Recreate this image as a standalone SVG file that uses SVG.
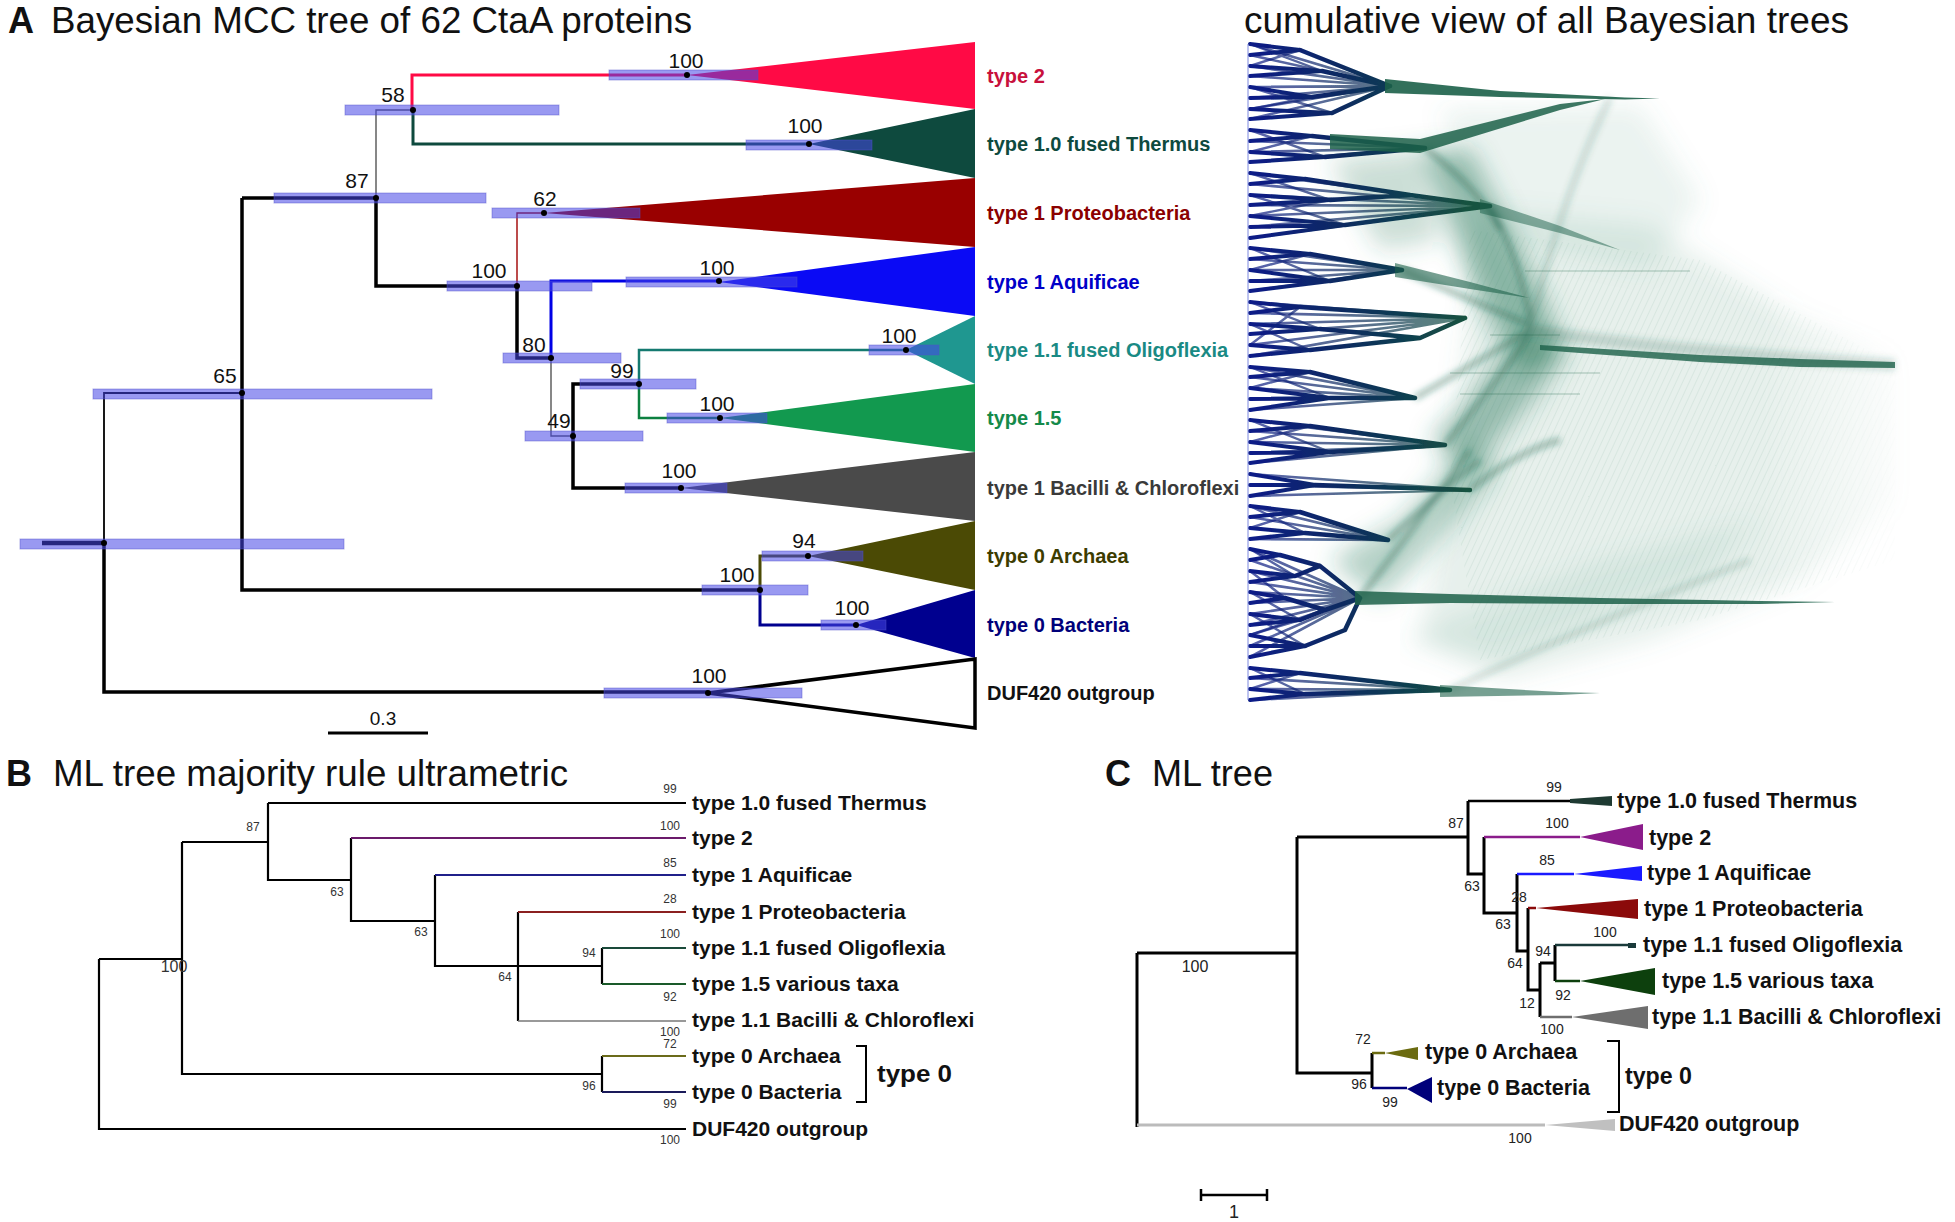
<svg xmlns="http://www.w3.org/2000/svg" width="1955" height="1222" viewBox="0 0 1955 1222">
<defs>
<style>
text{font-family:"Liberation Sans",Arial,sans-serif;fill:#111}
.ttl{font-size:36px}
.pl{font-size:36px;font-weight:bold}
.lbl{font-size:20px;font-weight:bold}
.num{font-size:21px;text-anchor:middle}
.bl{font-size:21px;font-weight:bold}
.cl{font-size:21.5px;font-weight:bold}
.bn{font-size:12px;fill:#333;text-anchor:middle}
.cn{font-size:14px;fill:#222;text-anchor:middle}
.bar{fill:#4646e6;fill-opacity:.55;stroke:#5050c8;stroke-opacity:.45;stroke-width:1}
.e{fill:none;stroke:#000;stroke-width:3.5}
.th{fill:none;stroke:#555;stroke-width:1.4}
.be{fill:none;stroke:#000;stroke-width:2.2}
.ce{fill:none;stroke:#000;stroke-width:3}
.fan{fill:none;stroke:url(#fan);stroke-linecap:round}
.br{fill:#1c6049}
</style>
<linearGradient id="fan" gradientUnits="userSpaceOnUse" x1="1250" y1="0" x2="1470" y2="0">
<stop offset="0" stop-color="#0a1c88"/><stop offset="0.4" stop-color="#0a2a62"/><stop offset="1" stop-color="#16533f"/>
</linearGradient>
<filter id="blur8" x="-20%" y="-20%" width="140%" height="140%"><feGaussianBlur stdDeviation="12"/></filter>
<filter id="blur3" x="-20%" y="-20%" width="140%" height="140%"><feGaussianBlur stdDeviation="3"/></filter>
<filter id="blur1" x="-5%" y="-5%" width="110%" height="110%"><feGaussianBlur stdDeviation="0.5"/></filter>
<pattern id="diag" width="6" height="6" patternUnits="userSpaceOnUse" patternTransform="rotate(25)"><line x1="0" y1="0" x2="0" y2="6" stroke="#2a7a5a" stroke-width="1" stroke-opacity="0.3"/></pattern>
<linearGradient id="fade" x1="0" y1="0" x2="1" y2="0"><stop offset="0" stop-color="#fff"/><stop offset="0.7" stop-color="#fff"/><stop offset="1" stop-color="#000"/></linearGradient>
<mask id="fadeMask" maskUnits="userSpaceOnUse" x="1400" y="100" width="520" height="620"><rect x="1400" y="100" width="520" height="620" fill="url(#fade)"/></mask>
</defs>
<rect width="1955" height="1222" fill="#fff"/>

<g id="titles">
<text class="pl" x="8" y="33">A</text>
<text class="ttl" x="51" y="33" textLength="641" lengthAdjust="spacingAndGlyphs">Bayesian MCC tree of 62 CtaA proteins</text>
<text class="ttl" x="1244" y="33" textLength="605" lengthAdjust="spacingAndGlyphs">cumulative  view of all Bayesian trees</text>
<text class="pl" x="6" y="786">B</text>
<text class="ttl" x="53" y="786" textLength="515" lengthAdjust="spacingAndGlyphs">ML tree majority rule ultrametric</text>
<text class="pl" x="1105" y="786">C</text>
<text class="ttl" x="1152" y="786" textLength="121" lengthAdjust="spacingAndGlyphs">ML tree</text>
</g>

<g id="panelA-clades">
<g id="a-type2"><polygon points="687,75 975,42 975,109" fill="#ff0a45"/><text class="lbl" x="987" y="83" style="fill:#c8103c">type 2</text></g>
<g id="a-thermus"><polygon points="809,144 975,109 975,178" fill="#0e4a3e"/><text class="lbl" x="987" y="151" style="fill:#0e4a3e">type 1.0 fused Thermus</text></g>
<g id="a-proteo"><polygon points="544,213 975,178 975,247" fill="#990000"/><text class="lbl" x="987" y="220" style="fill:#8b0000">type 1 Proteobacteria</text></g>
<g id="a-aquificae"><polygon points="719,282 975,247 975,316" fill="#0a0af5"/><text class="lbl" x="987" y="289" style="fill:#0000c8">type 1 Aquificae</text></g>
<g id="a-oligo"><polygon points="906,350 975,316 975,384" fill="#1f9790"/><text class="lbl" x="987" y="357" style="fill:#1a8a84">type 1.1 fused Oligoflexia</text></g>
<g id="a-t15"><polygon points="720,418 975,384 975,452" fill="#12994f"/><text class="lbl" x="987" y="425" style="fill:#148a4a">type 1.5</text></g>
<g id="a-bacilli"><polygon points="681,488 975,452 975,521" fill="#4a4a4a"/><text class="lbl" x="987" y="495" style="fill:#3a3a3a">type 1 Bacilli &amp; Chloroflexi</text></g>
<g id="a-archaea"><polygon points="808,556 975,521 975,590" fill="#4b4a05"/><text class="lbl" x="987" y="563" style="fill:#3c3c00">type 0 Archaea</text></g>
<g id="a-bacteria"><polygon points="856,625 975,590 975,658" fill="#00008f"/><text class="lbl" x="987" y="632" style="fill:#00007a">type 0 Bacteria</text></g>
<g id="a-duf"><polygon points="708,693 975,659 975,728" fill="#fff" stroke="#000" stroke-width="3.5"/><text class="lbl" x="987" y="700">DUF420 outgroup</text></g>
</g>

<g id="panelA-connectors">
<path d="M412,110 V75 H687" fill="none" stroke="#ff0a45" stroke-width="3"/>
<path d="M413,110 V144 H809" fill="none" stroke="#0e4a3e" stroke-width="3"/>
<path class="th" d="M376,198 V110 H413"/>
<path class="e" d="M242,198 H376 V286 H517 V358 H551"/>
<path d="M517,286 V213 H544" fill="none" stroke="#a00000" stroke-width="1.4"/>
<path d="M551,358 V281 H719" fill="none" stroke="#0000e6" stroke-width="3"/>
<path class="th" d="M551,358 V436 H573"/>
<path class="e" d="M639,384 H573 V488 H681"/>
<path d="M639,384 V350 H906" fill="none" stroke="#147a70" stroke-width="2.5"/>
<path d="M639,384 V418 H720" fill="none" stroke="#0c8040" stroke-width="2.5"/>
<path class="e" d="M242,198 V590 H760"/>
<path d="M760,590 V556 H808" fill="none" stroke="#4b4a05" stroke-width="3"/>
<path d="M760,590 V625 H856" fill="none" stroke="#00008f" stroke-width="3"/>
<path d="M242,393 H104 V543" fill="none" stroke="#000" stroke-width="1.8"/>
<path class="e" d="M104,543 V692 H708"/>
<path d="M42,543 H104" fill="none" stroke="#000" stroke-width="4.5"/>
</g>

<g id="panelA-bars">
<rect class="bar" x="609" y="70" width="149" height="10"/>
<rect class="bar" x="345" y="105" width="214" height="10"/>
<rect class="bar" x="746" y="140" width="126" height="10"/>
<rect class="bar" x="274" y="193" width="212" height="10"/>
<rect class="bar" x="492" y="208" width="148" height="10"/>
<rect class="bar" x="447" y="281" width="145" height="10"/>
<rect class="bar" x="626" y="277" width="171" height="10"/>
<rect class="bar" x="503" y="353" width="118" height="10"/>
<rect class="bar" x="869" y="345" width="70" height="10"/>
<rect class="bar" x="580" y="379" width="116" height="10"/>
<rect class="bar" x="667" y="413" width="100" height="10"/>
<rect class="bar" x="525" y="431" width="118" height="10"/>
<rect class="bar" x="625" y="483" width="102" height="10"/>
<rect class="bar" x="93" y="389" width="339" height="10"/>
<rect class="bar" x="20" y="539" width="324" height="10"/>
<rect class="bar" x="702" y="585" width="106" height="10"/>
<rect class="bar" x="762" y="551" width="101" height="10"/>
<rect class="bar" x="821" y="620" width="65" height="10"/>
<rect class="bar" x="604" y="688" width="198" height="10"/>
</g>

<g id="panelA-nodes" fill="#000">
<circle cx="687" cy="75" r="3"/><circle cx="413" cy="110" r="3"/><circle cx="809" cy="144" r="3"/>
<circle cx="376" cy="198" r="3"/><circle cx="544" cy="213" r="3"/><circle cx="517" cy="286" r="3"/>
<circle cx="719" cy="281" r="3"/><circle cx="551" cy="358" r="3"/><circle cx="906" cy="350" r="3"/>
<circle cx="639" cy="384" r="3"/><circle cx="720" cy="418" r="3"/><circle cx="573" cy="436" r="3"/>
<circle cx="681" cy="488" r="3"/><circle cx="808" cy="556" r="3"/><circle cx="760" cy="590" r="3"/>
<circle cx="856" cy="625" r="3"/><circle cx="708" cy="693" r="3"/><circle cx="242" cy="393" r="3"/>
<circle cx="104" cy="543" r="3"/>
</g>
<g id="panelA-support">
<text class="num" x="686" y="68">100</text>
<text class="num" x="393" y="102">58</text>
<text class="num" x="805" y="133">100</text>
<text class="num" x="357" y="188">87</text>
<text class="num" x="545" y="206">62</text>
<text class="num" x="489" y="278">100</text>
<text class="num" x="717" y="275">100</text>
<text class="num" x="534" y="352">80</text>
<text class="num" x="899" y="343">100</text>
<text class="num" x="622" y="378">99</text>
<text class="num" x="717" y="411">100</text>
<text class="num" x="559" y="428">49</text>
<text class="num" x="679" y="478">100</text>
<text class="num" x="225" y="383">65</text>
<text class="num" x="804" y="548">94</text>
<text class="num" x="737" y="582">100</text>
<text class="num" x="852" y="615">100</text>
<text class="num" x="709" y="683">100</text>
</g>
<g id="panelA-scale">
<path d="M328,733 H428" stroke="#000" stroke-width="3"/>
<text class="num" x="383" y="725" style="font-size:19px">0.3</text>
</g>

<g id="densitree">
<g mask="url(#fadeMask)">
<g filter="url(#blur8)">
<polygon points="1480,210 1650,225 1800,320 1900,360 1900,500 1800,580 1650,640 1500,680 1420,640 1450,480" fill="#5a9a80" fill-opacity="0.15"/>
<polygon points="1440,110 1640,105 1700,200 1650,270 1500,240" fill="#5a9a80" fill-opacity="0.12"/>
<polygon points="1400,640 1600,560 1760,520 1700,580 1500,660" fill="#5a9a80" fill-opacity="0.12"/>
</g>
<polygon points="1470,230 1700,260 1895,365 1895,560 1700,620 1480,660 1450,480" fill="url(#diag)" opacity="0.55"/>
</g>
<g filter="url(#blur8)">
<polygon points="1420,150 1470,150 1545,300 1565,360 1520,372 1480,300" fill="#2d7a5e" fill-opacity="0.5"/>
<polygon points="1430,440 1470,470 1545,385 1565,340 1520,330 1470,400" fill="#2d7a5e" fill-opacity="0.45"/>
<polygon points="1330,560 1400,520 1470,440 1500,470 1420,560 1380,600" fill="#2d7a5e" fill-opacity="0.35"/>
<polygon points="1330,160 1420,150 1440,240 1380,250" fill="#2d7a5e" fill-opacity="0.25"/>
</g>
<g filter="url(#blur3)" fill="none" stroke="#1c6049" stroke-opacity="0.4" stroke-width="6">
<path d="M1490,206 Q1520,260 1530,320"/>
<path d="M1402,270 Q1470,300 1530,325"/>
<path d="M1415,398 Q1480,360 1530,330"/>
<path d="M1445,445 Q1490,390 1530,335"/>
<path d="M1470,490 Q1520,450 1560,440"/>
<path d="M1388,540 Q1430,500 1480,460"/>
<path d="M1360,598 Q1420,520 1470,450"/>
<path d="M1425,148 Q1480,190 1500,230"/>
<path d="M1450,690 Q1600,620 1750,560" stroke-opacity="0.2"/>
<path d="M1530,330 Q1650,350 1895,365" stroke-opacity="0.2" stroke-width="12"/>
<path d="M1530,330 Q1560,200 1610,98" stroke-opacity="0.2"/>
</g>
<g fill="none" stroke="#1c6049" stroke-width="1.2" stroke-opacity="0.35">
<path d="M1525,271 H1690"/><path d="M1490,335 H1560"/><path d="M1450,373 H1600"/><path d="M1460,394 H1580"/>
</g>
<g filter="url(#blur1)">
<path class="fan" stroke-width="2.6" opacity="0.7" d="M1250,44L1390,86M1250,55L1390,86M1250,66L1390,86M1250,76L1390,86M1250,87L1390,86M1250,98L1390,86M1250,109L1390,86M1250,119L1390,86M1250,130L1425,148M1250,141L1425,148M1250,152L1425,148M1250,162L1425,148M1250,173L1490,206M1250,184L1490,206M1250,195L1490,206M1250,205L1490,206M1250,216L1490,206M1250,227L1490,206M1250,238L1490,206M1250,248L1402,270M1250,259L1402,270M1250,270L1402,270M1250,281L1402,270M1250,291L1402,270M1250,302L1465,318M1250,313L1465,318M1250,324L1465,318M1250,334L1465,318M1250,345L1465,318M1250,356L1465,318M1250,367L1415,398M1250,377L1415,398M1250,388L1415,398M1250,399L1415,398M1250,410L1415,398M1250,420L1445,445M1250,431L1445,445M1250,442L1445,445M1250,453L1445,445M1250,463L1445,445M1250,474L1470,490M1250,485L1470,490M1250,496L1470,490M1250,506L1388,540M1250,517L1388,540M1250,528L1388,540M1250,539L1388,540M1250,549L1360,598M1250,560L1360,598M1250,571L1360,598M1250,582L1360,598M1250,592L1360,598M1250,603L1360,598M1250,614L1360,598M1250,625L1360,598M1250,635L1360,598M1250,646L1360,598M1250,657L1360,598M1250,668L1450,690M1250,678L1450,690M1250,689L1450,690M1250,700L1450,690"/>
<path class="fan" stroke-width="2.4" opacity="0.7" d="M1250,44L1322,71M1250,66L1300,50M1250,87L1332,113M1250,109L1312,97M1250,130L1325,157M1250,152L1312,136M1250,173L1330,200M1250,195L1345,225M1250,216L1330,200M1250,248L1330,281M1250,270L1310,254M1250,302L1320,329M1250,324L1310,350M1250,345L1300,307M1250,367L1330,398M1250,388L1310,372M1250,420L1330,452M1250,442L1310,426M1250,506L1305,533M1250,528L1300,512M1250,549L1295,576M1250,571L1285,598M1250,592L1300,620M1250,614L1305,646M1250,635L1300,620M1250,668L1305,694M1250,689L1300,673"/>
<path class="fan" stroke-width="4.5" d="M1300,50L1390,86M1322,71L1390,86M1312,97L1390,86M1332,113L1390,86M1312,136L1425,148M1325,157L1425,148M1305,179L1410,195M1330,200L1410,195M1410,195L1490,206M1345,225L1490,206M1310,254L1402,270M1330,281L1402,270M1320,329L1420,338M1310,350L1420,338M1300,307L1465,318M1420,338L1465,318M1310,372L1415,398M1330,398L1415,398M1310,426L1445,445M1330,452L1445,445M1315,485L1470,490M1300,512L1388,540M1305,533L1388,540M1280,555L1320,566M1295,576L1320,566M1285,598L1325,610M1300,620L1325,610M1305,646L1345,630M1320,566L1360,598M1325,610L1360,598M1345,630L1360,598M1300,673L1450,690M1305,694L1450,690"/>
<path class="fan" stroke-width="4" d="M1250,44L1300,50M1250,55L1300,50M1250,66L1322,71M1250,76L1322,71M1250,87L1312,97M1250,98L1312,97M1250,109L1332,113M1250,119L1332,113M1250,130L1312,136M1250,141L1312,136M1250,152L1325,157M1250,162L1325,157M1250,173L1305,179M1250,184L1305,179M1250,195L1330,200M1250,205L1330,200M1250,216L1345,225M1250,227L1345,225M1250,238L1345,225M1250,248L1310,254M1250,259L1310,254M1250,270L1330,281M1250,281L1330,281M1250,291L1330,281M1250,302L1300,307M1250,313L1300,307M1250,324L1320,329M1250,334L1320,329M1250,345L1310,350M1250,356L1310,350M1250,367L1310,372M1250,377L1310,372M1250,388L1330,398M1250,399L1330,398M1250,410L1330,398M1250,420L1310,426M1250,431L1310,426M1250,442L1330,452M1250,453L1330,452M1250,463L1330,452M1250,474L1315,485M1250,485L1315,485M1250,496L1315,485M1250,506L1300,512M1250,517L1300,512M1250,528L1305,533M1250,539L1305,533M1250,549L1280,555M1250,560L1280,555M1250,571L1295,576M1250,582L1295,576M1250,592L1285,598M1250,603L1285,598M1250,614L1300,620M1250,625L1300,620M1250,635L1305,646M1250,646L1305,646M1250,657L1305,646M1250,668L1300,673M1250,678L1300,673M1250,689L1305,694M1250,700L1305,694"/>
</g>
<polygon class="br" points="1385,79 1500,91 1625,97.5 1660,98.5 1625,99.5 1500,97 1385,93" opacity="0.9"/>
<polygon class="br" points="1330,134 1420,139 1560,104 1605,99 1560,110 1420,153 1330,149" opacity="0.85"/>
<polygon class="br" points="1480,199 1560,226 1620,250 1560,233 1480,213" opacity="0.5"/>
<polygon class="br" points="1395,263 1470,282 1530,298 1470,289 1395,277" opacity="0.6"/>
<polygon class="br" points="1540,345 1700,355 1800,359 1895,362 1895,368 1800,367 1700,362 1540,350" opacity="0.8"/>
<polygon class="br" points="1355,591 1450,594 1600,598 1760,601 1835,602 1760,604 1600,604 1450,603 1355,605" opacity="0.85"/>
<polygon class="br" points="1440,685 1560,692 1600,693 1560,695 1440,697" opacity="0.6"/>
<path d="M1248,44 V700" stroke="#7c88e0" stroke-width="1"/>
</g>

<g id="panelB-connectors">
<path class="be" d="M99,959 V1129 H686 M99,959 H182 M182,842 V1074 H602 M182,842 H268 M268,803 V880 H351 M268,803 H686 M351,838 V921 H435 M435,875 V966 H602 M518,912 V1021 M602,948 V984 M602,1056 V1092"/>
<path d="M351,838 H686" stroke="#6b1a6b" stroke-width="2.2"/>
<path d="M435,875 H686" stroke="#20208a" stroke-width="2.2"/>
<path d="M518,912 H686" stroke="#8b2020" stroke-width="2.2"/>
<path d="M602,948 H686" stroke="#1a4a3a" stroke-width="2.2"/>
<path d="M602,984 H686" stroke="#1a5a2a" stroke-width="2.2"/>
<path d="M518,1021 H686" stroke="#777" stroke-width="1.6"/>
<path d="M602,1056 H686" stroke="#6b6b1a" stroke-width="2.2"/>
<path d="M602,1092 H686" stroke="#1a1a5a" stroke-width="2.2"/>
<path d="M856,1046 H866 V1102 H856" fill="none" stroke="#000" stroke-width="2"/>
</g>
<g id="panelB-nodes">
<text class="bl" x="692" y="810">type 1.0 fused Thermus</text>
<text class="bl" x="692" y="845">type 2</text>
<text class="bl" x="692" y="882">type 1 Aquificae</text>
<text class="bl" x="692" y="919">type 1 Proteobacteria</text>
<text class="bl" x="692" y="955">type 1.1 fused Oligoflexia</text>
<text class="bl" x="692" y="991">type 1.5 various taxa</text>
<text class="bl" x="692" y="1027">type 1.1 Bacilli &amp; Chloroflexi</text>
<text class="bl" x="692" y="1063">type 0 Archaea</text>
<text class="bl" x="692" y="1099">type 0 Bacteria</text>
<text class="bl" x="692" y="1136">DUF420 outgroup</text>
<text class="bl" x="877" y="1082" style="font-size:24px" textLength="75" lengthAdjust="spacingAndGlyphs">type 0</text>
</g>
<g id="panelB-support">
<text class="bn" x="253" y="831">87</text><text class="bn" x="337" y="896">63</text><text class="bn" x="421" y="936">63</text>
<text class="bn" x="505" y="981">64</text><text class="bn" x="589" y="957">94</text><text class="bn" x="589" y="1090">96</text>
<text class="bn" x="174" y="972" style="font-size:16px">100</text>
<text class="bn" x="670" y="793">99</text><text class="bn" x="670" y="830">100</text><text class="bn" x="670" y="867">85</text>
<text class="bn" x="670" y="903">28</text><text class="bn" x="670" y="938">100</text><text class="bn" x="670" y="1001">92</text>
<text class="bn" x="670" y="1036">100</text><text class="bn" x="670" y="1048">72</text><text class="bn" x="670" y="1108">99</text>
<text class="bn" x="670" y="1144">100</text>
</g>

<g id="panelC-clades">
<polygon points="1570,799 1612,796 1612,806 1570,803" fill="#1e3a32"/>
<polygon points="1580,837 1643,824 1643,850" fill="#8b1c8b"/>
<polygon points="1574,874 1642,866 1642,881" fill="#1a1aff"/>
<polygon points="1536,908 1638,899 1638,919" fill="#8b0a0a"/>
<polygon points="1628,943 1636,943 1636,948 1628,948" fill="#1a3a3a"/>
<polygon points="1580,981 1655,968 1655,995" fill="#0d400d"/>
<polygon points="1572,1017 1648,1006 1648,1029" fill="#6e6e6e"/>
<polygon points="1385,1053 1418,1047 1418,1060" fill="#6b6b10"/>
<polygon points="1407,1089 1432,1077 1432,1103" fill="#00007a"/>
<polygon points="1545,1125 1615,1119 1615,1131" fill="#c0c0c0"/>
<text class="cl" x="1617" y="808">type 1.0 fused Thermus</text>
<text class="cl" x="1649" y="845">type 2</text>
<text class="cl" x="1647" y="880">type 1 Aquificae</text>
<text class="cl" x="1644" y="916">type 1 Proteobacteria</text>
<text class="cl" x="1643" y="952">type 1.1 fused Oligoflexia</text>
<text class="cl" x="1662" y="988">type 1.5 various taxa</text>
<text class="cl" x="1652" y="1024">type 1.1 Bacilli &amp; Chloroflexi</text>
<text class="cl" x="1425" y="1059">type 0 Archaea</text>
<text class="cl" x="1437" y="1095">type 0 Bacteria</text>
<text class="cl" x="1619" y="1131">DUF420 outgroup</text>
<text class="cl" x="1625" y="1084" style="font-size:23px" textLength="67" lengthAdjust="spacingAndGlyphs">type 0</text>
</g>
<g id="panelC-connectors">
<path class="ce" d="M1137,953 V1127 M1137,953 H1297 M1297,837 V1073 H1372 M1297,837 H1468 M1468,801 V874 H1484 M1484,837 V913 H1517 M1517,874 V951 H1528 M1528,908 V990 H1540 M1540,963 V1017 M1540,963 H1555 M1555,945 V981 M1372,1053 V1088"/>
<path d="M1468,801 H1570" stroke="#000" stroke-width="2.5"/>
<path d="M1484,837 H1580" stroke="#8b1c8b" stroke-width="2.5"/>
<path d="M1517,874 H1574" stroke="#1a1aff" stroke-width="2.5"/>
<path d="M1528,908 H1536" stroke="#8b0a0a" stroke-width="2.5"/>
<path d="M1555,945 H1632" stroke="#1a3a3a" stroke-width="2.5"/>
<path d="M1555,981 H1580" stroke="#0d400d" stroke-width="2.5"/>
<path d="M1540,1017 H1572" stroke="#6e6e6e" stroke-width="2.5"/>
<path d="M1372,1053 H1385" stroke="#6b6b10" stroke-width="2.5"/>
<path d="M1372,1088 H1407" stroke="#00007a" stroke-width="2.5"/>
<path d="M1137,1125 H1545" stroke="#bbb" stroke-width="3"/>
<path d="M1607,1041 H1619 V1112 H1607" fill="none" stroke="#000" stroke-width="2"/>
</g>
<g id="panelC-support">
<text class="cn" x="1554" y="792">99</text><text class="cn" x="1456" y="828">87</text><text class="cn" x="1557" y="828">100</text>
<text class="cn" x="1472" y="891">63</text><text class="cn" x="1547" y="865">85</text><text class="cn" x="1519" y="902">28</text>
<text class="cn" x="1503" y="929">63</text><text class="cn" x="1605" y="937">100</text><text class="cn" x="1543" y="956">94</text>
<text class="cn" x="1515" y="968">64</text><text class="cn" x="1563" y="1000">92</text><text class="cn" x="1527" y="1008">12</text>
<text class="cn" x="1552" y="1034">100</text><text class="cn" x="1363" y="1044">72</text><text class="cn" x="1359" y="1089">96</text>
<text class="cn" x="1390" y="1107">99</text><text class="cn" x="1195" y="972" style="font-size:16px">100</text>
<text class="cn" x="1520" y="1143">100</text>
</g>
<g id="panelC-scale">
<path d="M1201,1195 H1267 M1201,1189 V1201 M1267,1189 V1201" stroke="#000" stroke-width="2.5" fill="none"/>
<text class="cn" x="1234" y="1218" style="font-size:18px">1</text>
</g>
</svg>
